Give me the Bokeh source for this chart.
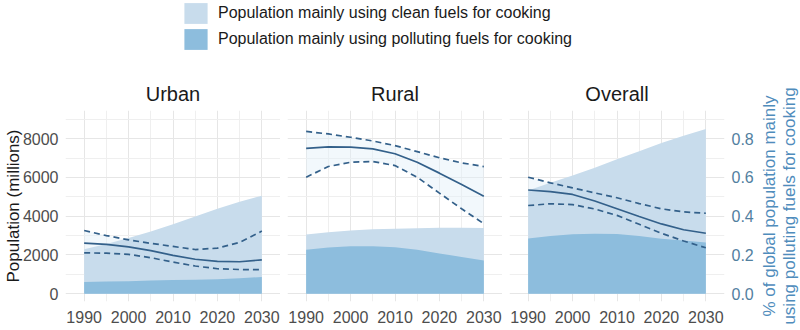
import math
from bokeh.plotting import figure
from bokeh.layouts import column, row
from bokeh.models import (Range1d, FixedTicker, LinearAxis, PrintfTickFormatter,
                          Legend, LegendItem)
from bokeh.embed import file_html
from bokeh.resources import INLINE

# ---------------- data ----------------
years = [1990, 1995, 2000, 2005, 2010, 2015, 2020, 2025, 2030]

urban_total = [2290, 2570, 2870, 3210, 3590, 3980, 4380, 4740, 5060]
urban_polluting = [600, 625, 650, 680, 705, 725, 750, 800, 860]
urban_share = [0.261, 0.255, 0.242, 0.222, 0.198, 0.178, 0.167, 0.165, 0.175]
urban_upper = [0.326, 0.300, 0.278, 0.260, 0.244, 0.228, 0.235, 0.265, 0.323]
urban_lower = [0.211, 0.209, 0.203, 0.186, 0.163, 0.143, 0.129, 0.125, 0.124]

rural_total = [3050, 3170, 3260, 3320, 3350, 3380, 3400, 3400, 3390]
rural_polluting = [2270, 2380, 2450, 2450, 2400, 2270, 2080, 1900, 1720]
rural_share = [0.750, 0.757, 0.756, 0.747, 0.722, 0.678, 0.622, 0.563, 0.503]
rural_upper = [0.837, 0.824, 0.807, 0.788, 0.764, 0.733, 0.701, 0.675, 0.656]
rural_lower = [0.601, 0.656, 0.678, 0.682, 0.661, 0.601, 0.519, 0.438, 0.361]

overall_total = [5330, 5720, 6100, 6500, 6930, 7350, 7770, 8150, 8500]
overall_polluting = [2850, 2980, 3070, 3100, 3080, 2980, 2840, 2740, 2640]
overall_share = [0.535, 0.527, 0.512, 0.478, 0.438, 0.398, 0.360, 0.330, 0.312]
overall_upper = [0.601, 0.572, 0.546, 0.520, 0.495, 0.465, 0.438, 0.422, 0.415]
overall_lower = [0.455, 0.464, 0.460, 0.437, 0.404, 0.358, 0.312, 0.272, 0.237]

panel_titles = ["Urban", "Rural", "Overall"]
x_ticks = [1990, 2000, 2010, 2020, 2030]
x_minor = [1985, 1995, 2005, 2015, 2025, 2035]
y_ticks = [0, 2000, 4000, 6000, 8000]
y_minor = [1000, 3000, 5000, 7000, 9000]
pct_ticks = [0.0, 0.2, 0.4, 0.6, 0.8]

legend_labels = ["Population mainly using clean fuels for cooking",
                 "Population mainly using polluting fuels for cooking"]
y_title = "Population (millions)"
right_title = "% of global population mainly\nusing polluting fuels for cooking"

# ---------------- style ----------------
FONT = "Liberation Sans"
LIGHT = "#c8dcec"
DARK = "#8dbddd"
LINE = "#33608a"
RIBBON = "#e2f0f9"
GRID_MAJ = "#e6e6e6"
GRID_MIN = "#efefef"
TICK_COL = "#4d4d4d"
RIGHT_TICK = "#52809f"
RIGHT_TITLE = "#4f8cbc"

Y_RANGE = (-400, 9450)
PCT_RANGE = (-0.04, 0.945)

# ---------------- legend strip ----------------
lf = figure(width=800, height=55, x_range=Range1d(0, 1), y_range=Range1d(0, 1),
            toolbar_location=None, output_backend="svg", min_border=0)
lf.axis.visible = False
lf.grid.visible = False
lf.outline_line_color = None
# zero-size key glyphs (only their legend swatches are seen)
r_light = lf.quad(left=[0], right=[0], top=[0], bottom=[0], fill_color=LIGHT, line_color=None)
r_dark = lf.quad(left=[0], right=[0], top=[0], bottom=[0], fill_color=DARK, line_color=None)
leg = Legend(items=[LegendItem(label=legend_labels[0], renderers=[r_light]),
                    LegendItem(label=legend_labels[1], renderers=[r_dark])],
             location=(181, 3), orientation="vertical",
             glyph_width=29, glyph_height=26, label_standoff=8, spacing=0,
             padding=0, margin=0, border_line_color=None, background_fill_alpha=0,
             label_text_font=FONT, label_text_font_size="16px", label_text_color="#1a1a1a",
             label_height=26)
lf.add_layout(leg)


def make_panel(title, total, polluting, share, upper, lower, first, last):
    p = figure(frame_width=215, frame_height=191,
               x_range=Range1d(1985.8, 2034.2), y_range=Range1d(*Y_RANGE),
               toolbar_location=None, output_backend="svg",
               min_border_top=55, min_border_bottom=29,
               min_border_left=65 if first else 7,
               min_border_right=31 if last else 0,
               title=title)
    p.extra_y_ranges = {"pct": Range1d(*PCT_RANGE)}
    p.outline_line_color = None
    p.title.align = "center"
    p.title.text_font = FONT
    p.title.text_font_size = "20px"
    p.title.text_font_style = "normal"
    p.title.text_color = "#1a1a1a"
    p.title.standoff = 12

    p.xaxis.ticker = FixedTicker(ticks=x_ticks, minor_ticks=x_minor)
    p.yaxis.ticker = FixedTicker(ticks=y_ticks, minor_ticks=y_minor)
    p.xgrid.ticker = FixedTicker(ticks=x_ticks, minor_ticks=x_minor)
    p.ygrid.ticker = FixedTicker(ticks=y_ticks, minor_ticks=y_minor)
    for g in (p.xgrid, p.ygrid):
        g.grid_line_color = GRID_MAJ
        g.grid_line_width = 1
        g.minor_grid_line_color = GRID_MIN
        g.minor_grid_line_width = 1

    for ax in (p.xaxis, p.yaxis):
        ax.axis_line_color = None
        ax.major_tick_line_color = None
        ax.minor_tick_line_color = None
        ax.major_tick_out = 0
        ax.minor_tick_out = 0
        ax.major_label_text_font = FONT
        ax.major_label_text_font_size = "16px"
        ax.major_label_text_color = TICK_COL
    p.xaxis.major_label_standoff = 9

    if first:
        p.yaxis.major_label_standoff = 7
        p.yaxis.axis_label = y_title
        p.yaxis.axis_label_text_font = FONT
        p.yaxis.axis_label_text_font_size = "17px"
        p.yaxis.axis_label_text_font_style = "normal"
        p.yaxis.axis_label_text_color = "#1a1a1a"
        p.yaxis.axis_label_standoff = -3
    else:
        p.yaxis.visible = False

    p.varea(x=years, y1=lower, y2=upper, fill_color=RIBBON, fill_alpha=0.45,
            y_range_name="pct")
    p.varea(x=years, y1=[0] * len(years), y2=total, fill_color=LIGHT)
    p.varea(x=years, y1=[0] * len(years), y2=polluting, fill_color=DARK)
    p.line(years, share, line_color=LINE, line_width=1.7, y_range_name="pct")
    p.line(years, upper, line_color=LINE, line_width=1.7, line_dash="6 4",
           y_range_name="pct")
    p.line(years, lower, line_color=LINE, line_width=1.7, line_dash="6 4",
           y_range_name="pct")

    if last:
        ax = LinearAxis(y_range_name="pct",
                        ticker=FixedTicker(ticks=pct_ticks),
                        formatter=PrintfTickFormatter(format="%.1f"))
        ax.axis_line_color = None
        ax.major_tick_line_color = None
        ax.minor_tick_line_color = None
        ax.major_tick_out = 0
        ax.minor_tick_out = 0
        ax.major_label_standoff = 7
        ax.major_label_text_font = FONT
        ax.major_label_text_font_size = "16px"
        ax.major_label_text_color = RIGHT_TICK
        p.add_layout(ax, "right")
    return p


p1 = make_panel(panel_titles[0], urban_total, urban_polluting, urban_share,
                urban_upper, urban_lower, True, False)
p2 = make_panel(panel_titles[1], rural_total, rural_polluting, rural_share,
                rural_upper, rural_lower, False, False)
p3 = make_panel(panel_titles[2], overall_total, overall_polluting, overall_share,
                overall_upper, overall_lower, False, True)

# narrow strip holding the secondary-axis title (reads bottom-to-top)
tf = figure(frame_width=1, frame_height=191, x_range=Range1d(0, 1),
            y_range=Range1d(*PCT_RANGE), toolbar_location=None, output_backend="svg",
            min_border_top=55, min_border_bottom=29, min_border_left=40,
            min_border_right=0)
tf.outline_line_color = None
tf.grid.visible = False
tf.xaxis.visible = False
tf.yaxis.ticker = FixedTicker(ticks=[])
tf.yaxis.axis_line_color = None
tf.yaxis.major_tick_line_color = None
tf.yaxis.minor_tick_line_color = None
tf.yaxis.major_tick_out = 0
tf.yaxis.minor_tick_out = 0
tf.yaxis.major_label_standoff = 0
tf.yaxis.axis_label = right_title
tf.yaxis.axis_label_text_font = FONT
tf.yaxis.axis_label_text_font_size = "17px"
tf.yaxis.axis_label_text_font_style = "normal"
tf.yaxis.axis_label_text_color = RIGHT_TITLE
tf.yaxis.axis_label_text_line_height = 1.05
tf.yaxis.axis_label_standoff = 0

layout = column(lf, row(p1, p2, p3, tf))

open("out.html", "w").write(file_html(layout, INLINE))
